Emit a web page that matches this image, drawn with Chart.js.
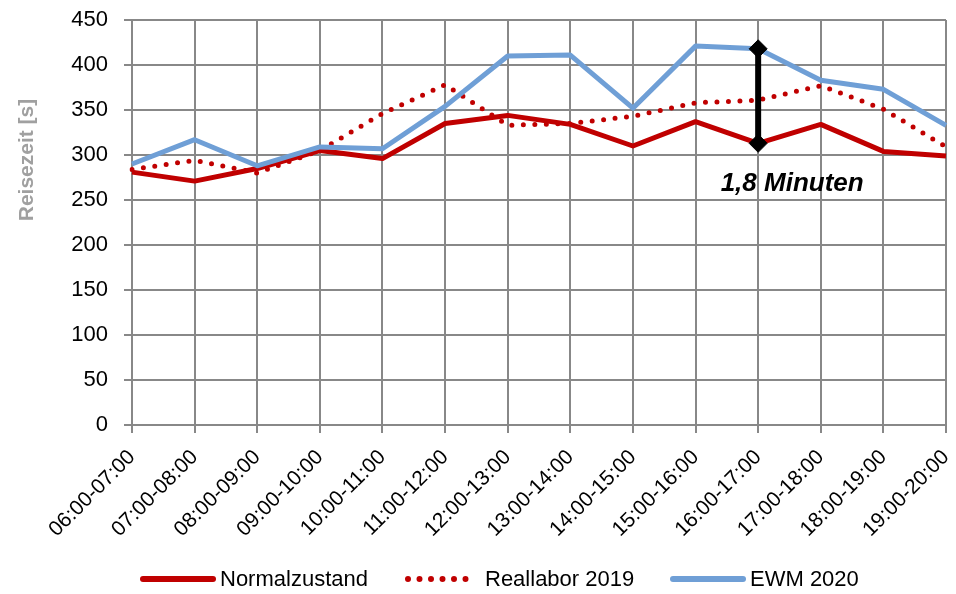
<!DOCTYPE html>
<html>
<head>
<meta charset="utf-8">
<script src="https://cdn.jsdelivr.net/npm/chart.js@4"></script>
<style>
  html, body { margin: 0; padding: 0; background: #ffffff; }
  canvas { display: block; }
</style>
</head>
<body>
<canvas id="chart" width="956" height="594"></canvas>
<script>
// Hourly time windows
const categories = [
  '06:00-07:00', '07:00-08:00', '08:00-09:00', '09:00-10:00', '10:00-11:00',
  '11:00-12:00', '12:00-13:00', '13:00-14:00', '14:00-15:00', '15:00-16:00',
  '16:00-17:00', '17:00-18:00', '18:00-19:00', '19:00-20:00'
];

// Travel times in seconds
const normalzustand = [281, 271, 285, 305, 296, 335, 344, 334, 310, 337, 313, 334, 304, 299];
const reallabor2019 = [284, 294, 280, 305, 346, 378, 333, 335, 343, 358, 361, 377, 351, 309];
const ewm2020       = [290, 317, 288, 309, 307, 354, 410, 411, 352, 421, 418, 383, 373, 333];

// Value axis ticks
const yTicks = [0, 50, 100, 150, 200, 250, 300, 350, 400, 450];

// Time window where the difference is highlighted
const markIndex = 10;

const RED = '#c00000';
const BLUE = '#6f9fd6';
const GRID = '#888888';
const FONT = "'Liberation Sans', Arial, sans-serif";

const diffMinutes = (ewm2020[markIndex] - normalzustand[markIndex]) / 60;
const diffLabel = diffMinutes.toFixed(1).replace('.', ',') + ' Minuten';

const seriesStyles = [
  { label: 'Normalzustand', color: RED, dash: [], cap: 'round' },
  { label: 'Reallabor 2019', color: RED, dash: [0, 11.5], cap: 'round' },
  { label: 'EWM 2020', color: BLUE, dash: [], cap: 'round' }
];

// Plot frame edges
const AREA = { left: 132, right: 949, top: 20, bottom: 425 };

const extrasPlugin = {
  id: 'extras',
  afterDraw(chart) {
    const ctx = chart.ctx;
    const xs = chart.scales.x;
    const ys = chart.scales.y;

    // Axis title
    ctx.save();
    ctx.translate(27, 160);
    ctx.rotate(-Math.PI / 2);
    ctx.font = 'bold 21px ' + FONT;
    ctx.fillStyle = '#a0a0a0';
    ctx.textAlign = 'center';
    ctx.textBaseline = 'middle';
    ctx.fillText('Reisezeit [s]', 0, 0);
    ctx.restore();

    // Difference label
    ctx.save();
    ctx.font = 'italic bold 26px ' + FONT;
    ctx.fillStyle = '#000000';
    ctx.textAlign = 'center';
    ctx.textBaseline = 'middle';
    const lx = xs.getPixelForValue(markIndex) + 34;
    const ly = ys.getPixelForValue(268);
    ctx.fillText(diffLabel, lx, ly);
    ctx.restore();

    // Legend
    const items = [
      { x1: 143, x2: 213, tx: 220 },
      { x1: 408, x2: 470, tx: 485 },
      { x1: 673, x2: 743, tx: 750 }
    ];
    const ly2 = 579;
    items.forEach((it, i) => {
      const s = seriesStyles[i];
      ctx.save();
      ctx.strokeStyle = s.color;
      ctx.lineWidth = 6;
      ctx.lineCap = s.cap;
      ctx.setLineDash(s.dash);
      ctx.beginPath();
      ctx.moveTo(it.x1, ly2);
      ctx.lineTo(it.x2, ly2);
      ctx.stroke();
      ctx.restore();
      ctx.save();
      ctx.font = '22px ' + FONT;
      ctx.fillStyle = '#000000';
      ctx.textAlign = 'left';
      ctx.textBaseline = 'middle';
      ctx.fillText(s.label, it.tx, ly2 + 1);
      ctx.restore();
    });
  }
};

new Chart(document.getElementById('chart'), {
  type: 'line',
  data: {
    labels: categories,
    datasets: [
      {
        label: 'Differenz',
        data: [
          { x: categories[markIndex], y: normalzustand[markIndex] },
          { x: categories[markIndex], y: ewm2020[markIndex] }
        ],
        borderColor: '#000000',
        backgroundColor: '#000000',
        borderWidth: 6,
        pointStyle: 'rectRot',
        pointRadius: 9,
        pointBorderWidth: 1,
        pointBackgroundColor: '#000000',
        pointBorderColor: '#000000',
        order: 0
      },
      {
        label: seriesStyles[2].label,
        data: ewm2020,
        borderColor: BLUE,
        borderWidth: 5,
        pointRadius: 0,
        tension: 0,
        borderJoinStyle: 'round',
        order: 1
      },
      {
        label: seriesStyles[1].label,
        data: reallabor2019,
        borderColor: RED,
        borderWidth: 5,
        borderDash: [0, 11.5],
        borderCapStyle: 'round',
        pointRadius: 0,
        tension: 0,
        order: 2
      },
      {
        label: seriesStyles[0].label,
        data: normalzustand,
        borderColor: RED,
        borderWidth: 5,
        pointRadius: 0,
        tension: 0,
        borderJoinStyle: 'round',
        order: 3
      }
    ]
  },
  options: {
    responsive: false,
    animation: false,
    events: [],
    layout: { padding: { top: AREA.top, right: 956 - AREA.right, left: 0, bottom: 0 } },
    plugins: {
      legend: { display: false },
      tooltip: { enabled: false },
      title: { display: false }
    },
    scales: {
      x: {
        type: 'category',
        offset: false,
        grid: { color: GRID, lineWidth: 2, tickLength: 8, drawTicks: true },
        border: { color: GRID, width: 2 },
        ticks: {
          autoSkip: false,
          maxRotation: 45,
          minRotation: 45,
          padding: 12,
          color: '#000000',
          font: { family: FONT, size: 21 }
        },
        afterFit(scale) {
          scale.height = 594 - AREA.bottom;
          scale.paddingLeft = 0;
          scale.paddingRight = 0;
        }
      },
      y: {
        min: 0,
        max: 450,
        grid: { color: GRID, lineWidth: 2, tickLength: 8, drawTicks: true },
        border: { color: GRID, width: 2 },
        ticks: {
          padding: 16,
          color: '#000000',
          font: { family: FONT, size: 22 }
        },
        afterBuildTicks(scale) { scale.ticks = yTicks.map(v => ({ value: v })); },
        afterFit(scale) {
          scale.width = AREA.left;
          scale.paddingTop = 0;
          scale.paddingBottom = 0;
        }
      }
    }
  },
  plugins: [extrasPlugin]
});
</script>
</body>
</html>
